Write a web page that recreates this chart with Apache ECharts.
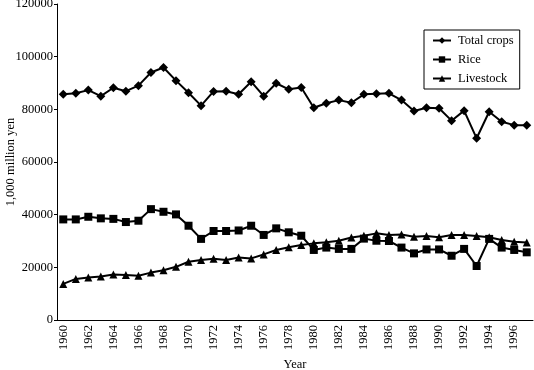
<!DOCTYPE html>
<html>
<head>
<meta charset="utf-8">
<script src="https://cdn.jsdelivr.net/npm/echarts@6/dist/echarts.min.js"></script>
<style>
html,body{margin:0;padding:0;background:#fff;}
#chart{width:534px;height:370px;}
</style>
</head>
<body>
<div id="chart"></div>
<script>
var years = [];
for (var y = 1960; y <= 1997; y++) years.push(String(y));

var totalCrops = [85700, 86100, 87300, 85000, 88200, 86900, 89000, 94000, 95900, 90900,
  86300, 81400, 86800, 86900, 85700, 90500, 85000, 89900, 87600, 88300,
  80600, 82300, 83500, 82500, 85700, 85900, 86100, 83500, 79400, 80600,
  80400, 75700, 79500, 69000, 79100, 75300, 74000, 74000];

var rice = [38200, 38200, 39200, 38600, 38400, 37200, 37700, 42100, 41100, 40100,
  35800, 30800, 33800, 33800, 34000, 35800, 32300, 34800, 33300, 32000,
  26600, 27500, 27000, 27000, 30900, 30100, 30000, 27500, 25300, 26800,
  26800, 24400, 27000, 20500, 30800, 27500, 26600, 25700];

var livestock = [13700, 15600, 16100, 16500, 17300, 17100, 16800, 18000, 18900, 20200,
  22100, 22800, 23300, 22800, 23700, 23400, 24900, 26600, 27600, 28500,
  29100, 29500, 30100, 31300, 32000, 32900, 32300, 32500, 31600, 31900,
  31400, 32300, 32300, 31900, 31400, 30400, 29700, 29400];

var seriesNames = ['Total crops', 'Rice', 'Livestock'];
var yAxisName = '1,000 million yen';
var xAxisName = 'Year';

var font = '"Liberation Serif", "DejaVu Serif", serif';
var chart = echarts.init(document.getElementById('chart'), null, {renderer: 'canvas'});

function mk(name, data, symbol, size) {
  return {
    name: name, type: 'line', data: data,
    symbol: symbol, symbolSize: size, showAllSymbol: true,
    lineStyle: {color: '#000', width: 2},
    itemStyle: {color: '#000'},
    animation: false
  };
}

chart.setOption({
  animation: false,
  backgroundColor: '#fff',
  textStyle: {fontFamily: font, color: '#000'},
  grid: {left: 57, right: 1, top: 4, bottom: 50, containLabel: false, outerBoundsMode: 'none'},
  legend: {
    data: seriesNames,
    orient: 'vertical',
    left: 424, top: 30,
    itemWidth: 18, itemHeight: 8, itemGap: 6,
    padding: [4, 6, 4, 8],
    borderColor: '#000', borderWidth: 1,
    backgroundColor: '#fff',
    textStyle: {fontFamily: font, fontSize: 12.5, color: '#000', padding: [0, 0, 0, 2]}
  },
  xAxis: {
    type: 'category', data: years, boundaryGap: true,
    name: xAxisName, nameLocation: 'middle', nameGap: 38, nameMoveOverlap: false,
    nameTextStyle: {fontFamily: font, fontSize: 12.5, color: '#000'},
    axisLine: {lineStyle: {color: '#000', width: 1}},
    axisTick: {inside: true, length: 4, interval: 0, lineStyle: {color: '#000'}},
    axisLabel: {rotate: 90, interval: 1, fontFamily: font, fontSize: 12.5, color: '#000', margin: 5},
    splitLine: {show: false}
  },
  yAxis: {
    type: 'value', min: 0, max: 120000, interval: 20000,
    name: yAxisName, nameLocation: 'middle', nameGap: 40, nameMoveOverlap: false,
    nameTextStyle: {fontFamily: font, fontSize: 12.5, color: '#000'},
    axisLine: {show: true, lineStyle: {color: '#000', width: 1}},
    axisTick: {show: true, length: 3, lineStyle: {color: '#000'}},
    axisLabel: {fontFamily: font, fontSize: 12.5, color: '#000', margin: 4,
      formatter: function (v) { return String(v); }},
    splitLine: {show: false}
  },
  series: [
    mk(seriesNames[0], totalCrops, 'diamond', 9),
    mk(seriesNames[1], rice, 'rect', 8),
    mk(seriesNames[2], livestock, 'triangle', 8)
  ]
});
</script>
</body>
</html>
